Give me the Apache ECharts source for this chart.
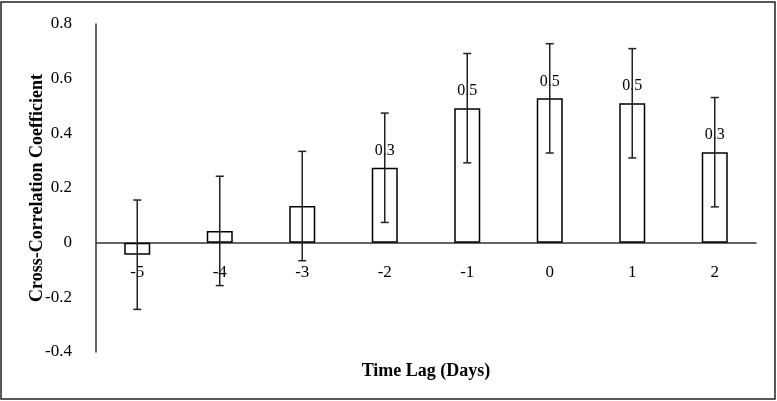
<!DOCTYPE html>
<html>
<head>
<meta charset="utf-8">
<script src="https://cdn.jsdelivr.net/npm/echarts@6/dist/echarts.min.js"></script>
<style>
html,body{margin:0;padding:0;background:#fff;}
#c{width:777px;height:401px;}
</style>
</head>
<body>
<div id="c"></div>
<script>
var categories = ['-5', '-4', '-3', '-2', '-1', '0', '1', '2'];
var values = [-0.044, 0.043, 0.134, 0.274, 0.492, 0.528, 0.510, 0.331];
var errors = [0.2, 0.2, 0.2, 0.2, 0.2, 0.2, 0.2, 0.2];
var barLabels = ['', '', '', '0.3', '0.5', '0.5', '0.5', '0.3'];
var yTicks = { min: -0.4, max: 0.8, interval: 0.2 };

var FONT = 'Liberation Serif';
var chart = echarts.init(document.getElementById('c'), null, { renderer: 'canvas' });

var errData = categories.map(function (c, i) {
  return [i, values[i] - errors[i], values[i] + errors[i]];
});

chart.setOption({
  animation: false,
  backgroundColor: '#fff',
  grid: { left: 96, right: 21, top: 24, bottom: 49, containLabel: false, outerBoundsMode: 'none' },
  graphic: [{
    type: 'rect',
    shape: { x: 1, y: 2, width: 774, height: 397 },
    style: { fill: 'none', stroke: '#222', lineWidth: 1.5 },
    z: 100
  }],
  xAxis: {
    type: 'category',
    data: categories,
    axisLine: { onZero: true, lineStyle: { color: '#333', width: 1.5 } },
    axisTick: { show: false },
    axisLabel: { color: '#000', fontFamily: FONT, fontSize: 17, margin: -88 },
    name: 'Time Lag (Days)',
    nameLocation: 'middle',
    nameGap: 10,
    nameMoveOverlap: false,
    nameTextStyle: { color: '#000', fontFamily: FONT, fontSize: 18, fontWeight: 'bold' },
    splitLine: { show: false }
  },
  yAxis: {
    type: 'value',
    min: yTicks.min,
    max: yTicks.max,
    interval: yTicks.interval,
    axisLine: { show: true, lineStyle: { color: '#333', width: 1.5 } },
    axisTick: { show: false },
    splitLine: { show: false },
    axisLabel: { color: '#000', fontFamily: FONT, fontSize: 17, margin: 24 },
    name: 'Cross-Correlation Coefficient',
    nameLocation: 'middle',
    nameGap: 50,
    nameRotate: 90,
    nameMoveOverlap: false,
    nameTextStyle: { color: '#000', fontFamily: FONT, fontSize: 18, fontWeight: 'bold' }
  },
  series: [{
    type: 'bar',
    data: values,
    barWidth: 26,
    itemStyle: { color: '#fff', borderColor: '#000', borderWidth: 1.5 },
    label: {
      show: true,
      position: 'top',
      distance: 9,
      color: '#000',
      fontFamily: FONT,
      fontSize: 16,
      formatter: function (p) { return barLabels[p.dataIndex]; }
    },
    z: 2
  }, {
    type: 'custom',
    data: errData,
    z: 5,
    renderItem: function (params, api) {
      var x = api.value(0);
      var lo = api.coord([x, api.value(1)]);
      var hi = api.coord([x, api.value(2)]);
      var cap = 4;
      var st = { stroke: '#222', lineWidth: 1.5 };
      return {
        type: 'group',
        children: [
          { type: 'line', shape: { x1: hi[0], y1: hi[1], x2: lo[0], y2: lo[1] }, style: st },
          { type: 'line', shape: { x1: hi[0] - cap, y1: hi[1], x2: hi[0] + cap, y2: hi[1] }, style: st },
          { type: 'line', shape: { x1: lo[0] - cap, y1: lo[1], x2: lo[0] + cap, y2: lo[1] }, style: st }
        ]
      };
    }
  }]
});
</script>
</body>
</html>
